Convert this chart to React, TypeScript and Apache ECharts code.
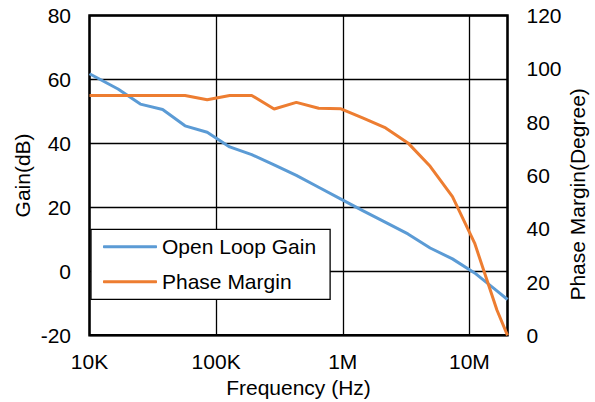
import React, { useEffect, useRef } from "react";
import * as echarts from "echarts";

const frequencies = [
  1e4, 1.68e4, 2.52e4, 3.78e4, 5.68e4, 8.5e4, 1.28e5, 1.91e5, 2.87e5, 4.3e5,
  6.45e5, 9.68e5, 1.45e6, 2.18e6, 3.27e6, 4.9e6, 7.35e6, 1.1e7, 1.65e7, 2e7,
];
const openLoopGain = [
  61.8, 57.0, 52.3, 50.6, 45.5, 43.5, 38.9, 36.5, 33.3, 30.0, 26.3, 22.6, 18.9,
  15.3, 11.7, 7.3, 3.9, -0.5, -6.1, -8.8,
];
const phaseMargin = [
  90, 90, 90, 90, 90, 88.4, 90, 90, 84.9, 87.4, 85.2, 85.0, 81.5, 77.8, 72.2,
  63.4, 52.0, 34.6, 9.5, 0,
];
const xTickLabels: Record<number, string> = { 4: "10K", 5: "100K", 6: "1M", 7: "10M" };
const seriesNames = ["Open Loop Gain", "Phase Margin"];

const FONT = "'Liberation Sans', Arial, sans-serif";

export default function App() {
  const ref = useRef<HTMLDivElement>(null);
  useEffect(() => {
    document.body.style.margin = "0";
    if (!ref.current) return;
    const chart = echarts.init(ref.current, undefined, { renderer: "svg" });
    const textStyle = { fontFamily: FONT, fontSize: 21, color: "#000" };
    chart.setOption({
      animation: false,
      backgroundColor: "#fff",
      textStyle,
      grid: {
        left: 89.5,
        top: 15.5,
        width: 418,
        height: 319.8,
        show: true,
        borderColor: "#000",
        borderWidth: 2.5,
        backgroundColor: "transparent",
        containLabel: false,
        outerBoundsMode: "none",
      },
      legend: {
        orient: "vertical",
        left: 91,
        top: 229.3,
        padding: [7, 14, 7, 12],
        itemGap: 14,
        itemWidth: 54,
        itemHeight: 3,
        icon: "roundRect",
        backgroundColor: "#fff",
        borderColor: "#000",
        borderWidth: 1.3,
        borderRadius: 0,
        textStyle: { ...textStyle, padding: [0, 0, 0, 0] },
        data: seriesNames,
      },
      xAxis: {
        type: "log",
        logBase: 10,
        min: 1e4,
        max: 2e7,
        name: "Frequency (Hz)",
        nameLocation: "middle",
        nameGap: 42,
        nameMoveOverlap: false,
        nameTextStyle: textStyle,
        axisLine: { show: false },
        axisTick: { show: false },
        axisLabel: {
          ...textStyle,
          margin: 16,
          showMaxLabel: false,
          formatter: (v: number) => {
            const e = Math.log10(v);
            const r = Math.round(e);
            return Math.abs(e - r) < 1e-6 ? xTickLabels[r] ?? "" : "";
          },
        },
        splitLine: { show: true, lineStyle: { color: "#000", width: 1.3 } },
        minorTick: { show: false },
        minorSplitLine: { show: false },
      },
      yAxis: [
        {
          type: "value",
          min: -20,
          max: 80,
          interval: 20,
          name: "Gain(dB)",
          nameLocation: "middle",
          nameGap: 56.5,
          nameMoveOverlap: false,
          nameTextStyle: textStyle,
          axisLine: { show: false },
          axisTick: { show: false },
          axisLabel: { ...textStyle, margin: 18.5 },
          splitLine: { show: true, lineStyle: { color: "#000", width: 1.3 } },
        },
        {
          type: "value",
          min: 0,
          max: 120,
          interval: 20,
          name: "Phase Margin(Degree)",
          nameLocation: "middle",
          nameGap: 59,
          nameMoveOverlap: false,
          nameTextStyle: { ...textStyle, padding: [0, 38, 0, 0] },
          axisLine: { show: false },
          axisTick: { show: false },
          axisLabel: { ...textStyle, margin: 19 },
          splitLine: { show: false },
        },
      ],
      series: [
        {
          name: seriesNames[0],
          type: "line",
          yAxisIndex: 0,
          symbol: "none",
          lineStyle: { color: "#5B9BD5", width: 3 },
          itemStyle: { color: "#5B9BD5" },
          data: frequencies.map((f, i) => [f, openLoopGain[i]]),
        },
        {
          name: seriesNames[1],
          type: "line",
          yAxisIndex: 1,
          symbol: "none",
          lineStyle: { color: "#ED7D31", width: 3 },
          itemStyle: { color: "#ED7D31" },
          data: frequencies.map((f, i) => [f, phaseMargin[i]]),
        },
      ],
    });
    return () => chart.dispose();
  }, []);
  return <div ref={ref} style={{ width: 595, height: 402 }} />;
}
